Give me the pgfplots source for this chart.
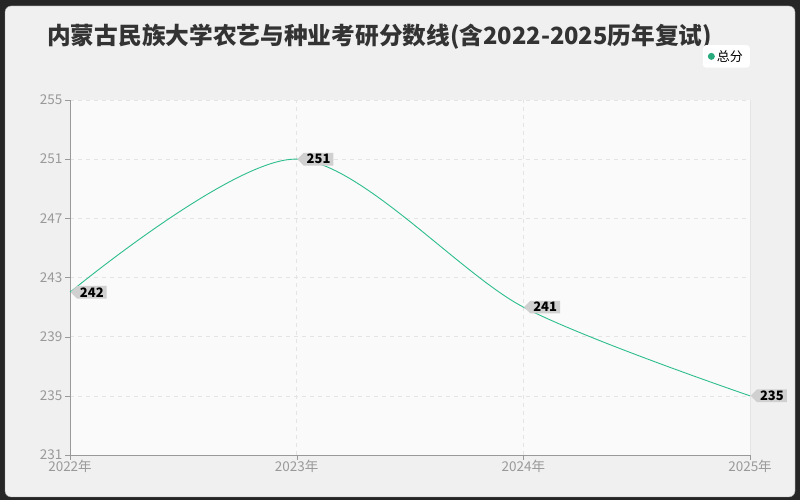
\documentclass[border=0pt]{standalone}
\usepackage{pgfplots}
\pgfplotsset{compat=1.18}
\usepackage{fontspec}
\setmainfont{Noto Sans CJK SC}
\usetikzlibrary{shapes.symbols}
\definecolor{bgc}{HTML}{F0F0F0}
\definecolor{linec}{HTML}{2DBE8C}
\definecolor{tickc}{HTML}{999999}
\definecolor{gridc}{HTML}{E4E4E4}
\definecolor{tagc}{HTML}{D0D0D0}
\definecolor{plotbg}{HTML}{FAFAFA}

\begin{document}
\begin{tikzpicture}
\useasboundingbox (0pt,0pt) rectangle (800pt,500pt);
\fill[black!85] (0pt,0pt) rectangle (800pt,500pt);
\fill[bgc, draw=black!40, rounded corners=6pt] (5pt,3pt) rectangle (795pt,494pt);
\node[anchor=west, font=\fontsize{23.7}{27}\selectfont\bfseries, text=black!80, inner sep=0pt] at (47pt,463pt) {内蒙古民族大学农艺与种业考研分数线(含2022-2025历年复试)};

\begin{axis}[
    at={(70pt,45pt)}, anchor=south west,
    scale only axis,
    width=680pt, height=355pt,
    xmin=2022, xmax=2025,
    ymin=231, ymax=255,
    xtick={2022,2023,2024,2025},
    xticklabels={2022年,2023年,2024年,2025年},
    ytick={231,235,239,243,247,251,255},
    /pgf/number format/assume math mode=true,
    tick label style={font=\fontsize{13.5}{15}\selectfont, text=tickc},
    xticklabel style={yshift=3pt},
    yticklabel style={xshift=1pt},
    axis line style={draw=none},
    axis background/.style={fill=plotbg},
    grid=major,
    major grid style={draw=gridc, dash pattern=on 4pt off 4pt},
    tick style={draw=tickc},
    major tick length=5pt,
    tick align=outside,
    xtick pos=bottom, ytick pos=left,
    clip=false,
    legend style={at={(1,1.155)}, anchor=north east, draw=none, fill=white,
      rounded corners=3pt, font=\fontsize{13}{15}\selectfont,
      inner xsep=5pt, inner ysep=3pt},
    legend image code/.code={\fill[linec!90!black] (0pt,-3pt) rectangle (6pt,3pt);},
]
\draw[tickc] (rel axis cs:0,0) -- (rel axis cs:0,1);
\draw[tickc] (rel axis cs:0,0) -- (rel axis cs:1,0);
\draw[gridc] (rel axis cs:1,0) -- (rel axis cs:1,1);
\addplot[linec, line width=0.9pt, smooth, tension=0.5,
  nodes near coords,
  point meta=explicit symbolic,
  every node near coord/.style={anchor=west, shape=signal, signal to=west,
    signal pointer angle=90, fill=tagc, inner xsep=3pt, inner ysep=1.5pt,
    font=\fontsize{13}{15}\selectfont\bfseries, text=black},
] coordinates {(2022,242)[242] (2023,251)[251] (2024,241)[241] (2025,235)[235]};
\legend{总分}
\end{axis}
\end{tikzpicture}
\end{document}
